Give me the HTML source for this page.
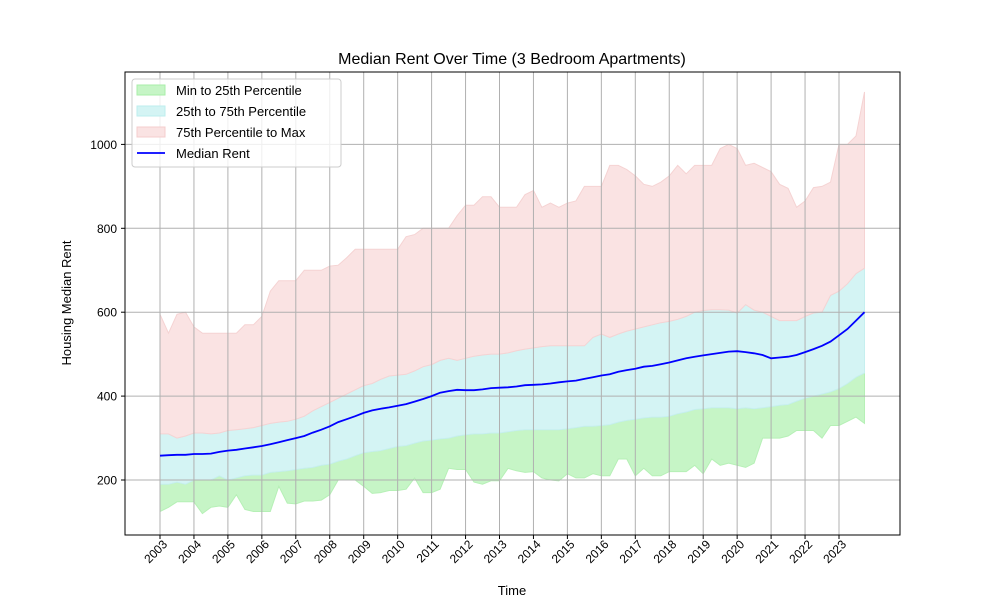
<!DOCTYPE html>
<html><head><meta charset="utf-8"><style>
body{margin:0;background:#fff}
svg{display:block;font-family:"Liberation Sans","DejaVu Sans",sans-serif}
</style></head><body>
<svg id="chart" width="1000" height="600" viewBox="0 0 1000 600" xmlns="http://www.w3.org/2000/svg">
<rect width="1000" height="600" fill="#fff"/>
<text x="512" y="64" font-size="16" text-anchor="middle">Median Rent Over Time (3 Bedroom Apartments)</text>
<g id="fills"></g>
<g id="grid"></g>
<g id="lines"></g>
<rect x="125" y="72" width="775" height="463" fill="none" stroke="#000" stroke-width="1"/>
<g id="ticks"></g>
<text x="512" y="595" font-size="13" text-anchor="middle">Time</text>
<text transform="translate(71,303) rotate(-90)" font-size="13" text-anchor="middle">Housing Median Rent</text>
<g>
<rect x="132" y="79" width="209" height="88" rx="3" fill="#fff" fill-opacity="0.8" stroke="#ccc"/>
<rect x="137" y="85" width="28" height="10" fill="#c6f5c6" stroke="#a8eea8"/>
<text x="176" y="95" font-size="13">Min to 25th Percentile</text>
<rect x="137" y="106" width="28" height="10" fill="#d4f4f4" stroke="#bdeeee"/>
<text x="176" y="116" font-size="13">25th to 75th Percentile</text>
<rect x="137" y="127" width="28" height="10" fill="#fae3e3" stroke="#f4cccc"/>
<text x="176" y="137" font-size="13">75th Percentile to Max</text>
<line x1="137" y1="153" x2="165" y2="153" stroke="#0000ff" stroke-width="1.8"/>
<text x="176" y="158" font-size="13">Median Rent</text>
</g>
</svg>
<script>
const years=[2003,2004,2005,2006,2007,2008,2009,2010,2011,2012,2013,2014,2015,2016,2017,2018,2019,2020,2021,2022,2023];
const yTicks=[200,400,600,800,1000];
const minRent=[125,135,148,148,148,120,135,138,135,165,130,125,125,125,185,145,143,150,150,152,165,200,200,200,185,168,170,175,175,178,205,170,170,178,228,225,225,195,190,198,198,228,222,218,220,205,200,198,215,205,205,215,210,210,250,250,210,228,210,210,220,220,220,235,215,250,235,240,235,230,240,300,300,300,305,318,318,318,300,330,330,340,350,335];
const p25=[190,190,195,190,200,200,200,210,200,205,210,212,212,218,220,222,225,228,230,235,238,245,250,258,265,268,270,275,280,282,288,293,295,298,300,305,308,310,310,312,312,315,318,320,320,320,320,320,322,325,328,328,330,332,338,342,345,348,350,350,352,358,362,368,370,372,372,372,370,372,370,372,375,378,380,388,395,400,405,410,418,430,445,455];
const medianRent=[258,259,260,260,262,262,263,267,270,272,275,278,281,285,290,295,300,305,313,320,328,338,345,352,360,366,370,373,377,381,387,393,400,408,412,415,414,414,416,419,420,421,423,426,427,428,430,433,435,437,441,445,449,452,458,462,465,470,472,476,480,485,490,494,497,500,503,506,507,505,502,498,490,492,494,498,505,512,520,530,545,560,580,600];
const p75=[310,310,300,305,312,312,310,312,318,320,322,325,330,335,338,340,345,352,365,375,385,395,405,415,425,430,440,448,450,452,460,470,475,485,490,485,490,495,498,500,500,503,508,512,515,518,520,520,520,520,520,540,548,540,548,555,560,565,570,575,578,583,590,600,604,606,606,605,598,618,605,600,590,580,580,580,590,598,600,640,650,668,692,705];
const maxRent=[595,550,595,600,565,550,550,550,550,550,570,570,590,650,675,675,675,700,700,700,710,712,730,750,750,750,750,750,750,780,785,800,800,800,800,830,855,855,875,875,850,850,850,880,890,850,860,850,860,865,900,900,900,950,950,940,925,905,900,910,925,950,930,950,950,950,990,1000,990,950,955,945,935,905,895,850,865,897,900,910,1000,1000,1020,1125];

const NS='http://www.w3.org/2000/svg';
const xS=t=>160+(t-2003)*33.95;
const yS=v=>480-(v-200)*0.4195;
const tAt=i=>2003+i*0.25;
function mk(tag,attrs,parent){const e=document.createElementNS(NS,tag);for(const k in attrs)e.setAttribute(k,attrs[k]);parent.appendChild(e);return e;}
const fills=document.getElementById('fills'),grid=document.getElementById('grid'),lines=document.getElementById('lines'),ticks=document.getElementById('ticks');
function band(lo,hi,fill,stroke,name){
  let d='M'+lo.map((v,i)=>xS(tAt(i)).toFixed(1)+','+yS(v).toFixed(1)).join('L');
  for(let i=hi.length-1;i>=0;i--)d+='L'+xS(tAt(i)).toFixed(1)+','+yS(hi[i]).toFixed(1);
  const p=mk('path',{d:d+'Z',fill:fill,stroke:stroke,'stroke-width':1},fills);
  
  
}
band(minRent,p25,'#c6f5c6','#b6f0b6','band-min-25');
band(p25,p75,'#d4f4f4','#c6efef','band-25-75');
band(p75,maxRent,'#fae3e3','#f5d3d3','band-75-max');
years.forEach(y=>{
  const x=xS(y);
  const g=mk('line',{x1:x,y1:72,x2:x,y2:535,stroke:'#b0b0b0','stroke-width':1},grid);
  
  
  mk('line',{x1:x,y1:535,x2:x,y2:539,stroke:'#000'},ticks);
  const t=mk('text',{transform:`translate(${x+8},${545}) rotate(-45)`,'font-size':12,'text-anchor':'end'},ticks);
  t.textContent=y;
  
  
});
yTicks.forEach(v=>{
  const y=yS(v);
  const g=mk('line',{x1:125,y1:y,x2:900,y2:y,stroke:'#b0b0b0','stroke-width':1},grid);
  
  
  mk('line',{x1:121,y1:y,x2:125,y2:y,stroke:'#000'},ticks);
  const t=mk('text',{x:117,y:y+4.5,'font-size':12,'text-anchor':'end'},ticks);
  t.textContent=v;
  
  
});
const ml=mk('polyline',{points:medianRent.map((v,i)=>xS(tAt(i)).toFixed(1)+','+yS(v).toFixed(1)).join(' '),fill:'none',stroke:'#0000ff','stroke-width':1.8},lines);


</script>
</body></html>
